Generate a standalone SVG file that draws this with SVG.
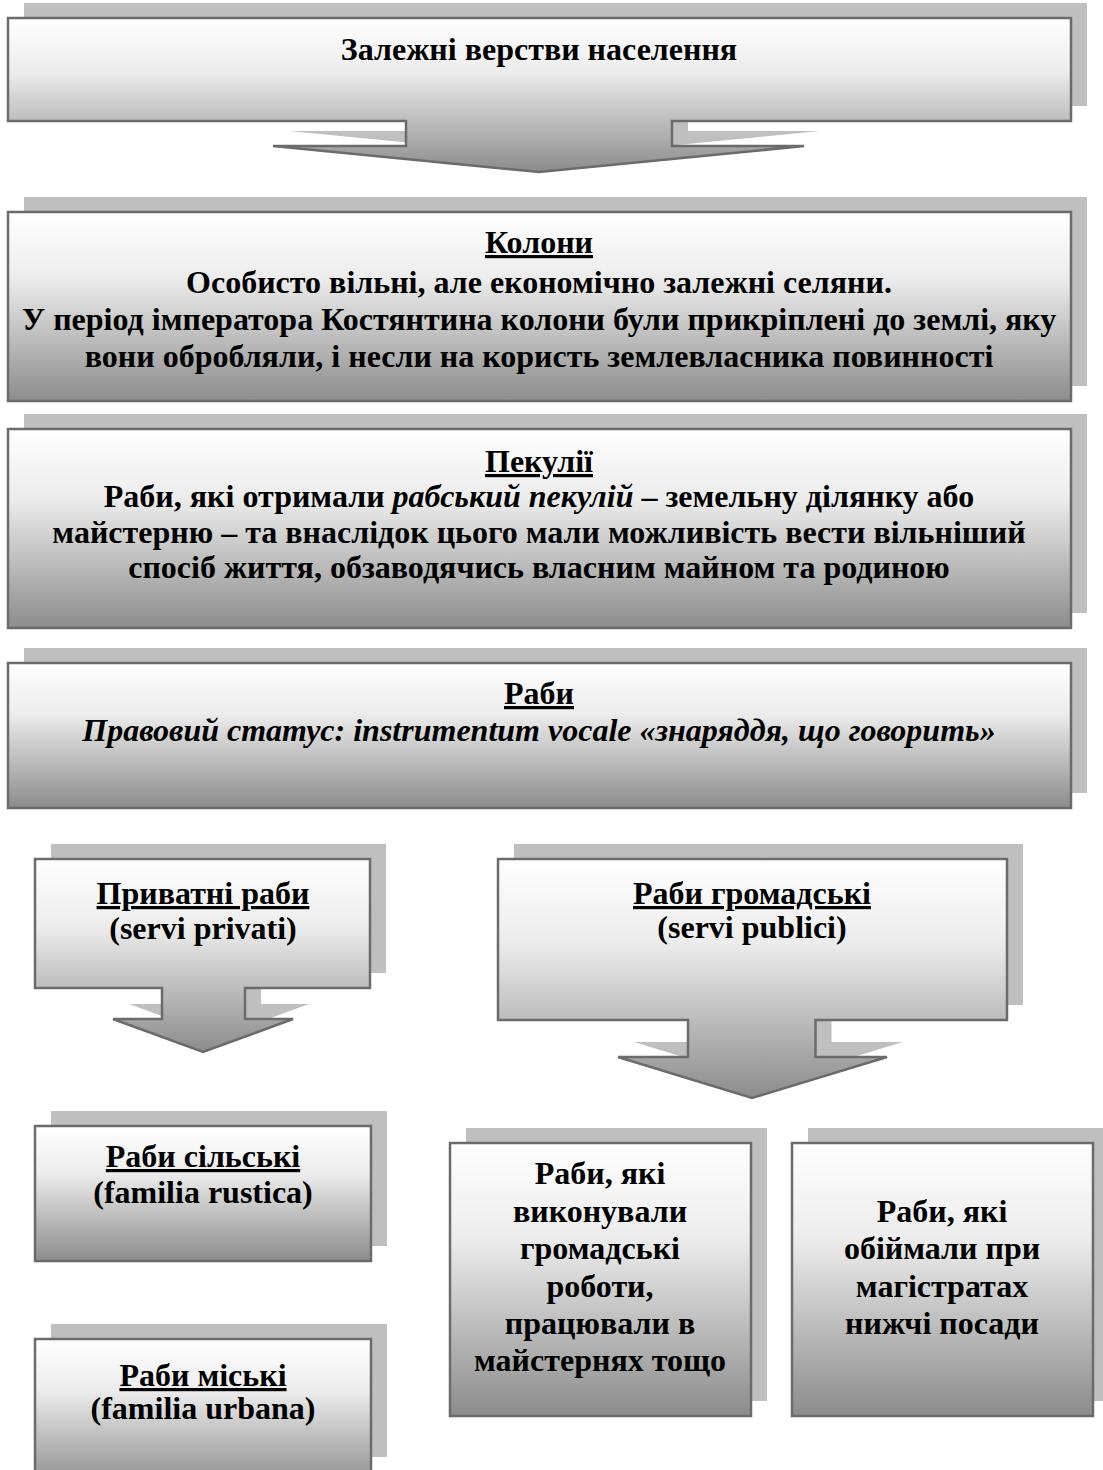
<svg xmlns="http://www.w3.org/2000/svg" width="1103" height="1470" viewBox="0 0 1103 1470">
  <defs>
    <linearGradient id="g" x1="0" y1="0" x2="0" y2="1">
      <stop offset="0" stop-color="#ffffff"/>
      <stop offset="0.35" stop-color="#ececec"/>
      <stop offset="1" stop-color="#8c8c8c"/>
    </linearGradient>
  </defs>
  <style>
    .sh { fill: #bfbfbf; stroke: none; }
    .bx { fill: url(#g); stroke: #6b6b6b; stroke-width: 2.5; }
    .t { font-family: "Liberation Serif", "Times New Roman", serif; font-weight: bold; font-size: 32px; fill: #000; text-anchor: middle; }
    .u { text-decoration: underline; }
    .i { font-style: italic; }
  </style>
  <rect width="1103" height="1470" fill="#ffffff"/>

  <g id="connectors"></g>

  <g id="node-zalezhni">
    <path class="sh" d="M24,3 H1087 V106 H688 V131 H820 L555,157 L289,131 H422 V106 H24 Z"/>
    <path class="bx" d="M8,18 H1071 V121 H672 V146 H804 L539,172 L273,146 H406 V121 H8 Z"/>
    <text class="t" x="539" y="60">Залежні верстви населення</text>
  </g>

  <g id="node-koloni">
    <rect class="sh" x="24" y="197" width="1063" height="189"/>
    <rect class="bx" x="8" y="212" width="1063" height="189"/>
    <text class="t u" x="539" y="253">Колони</text>
    <text class="t" x="539" y="293">Особисто вільні, але економічно залежні селяни.</text>
    <text class="t" x="539" y="330">У період імператора Костянтина колони були прикріплені до землі, яку</text>
    <text class="t" x="539" y="367">вони обробляли, і несли на користь землевласника повинності</text>
  </g>

  <g id="node-pekulii">
    <rect class="sh" x="24" y="414" width="1063" height="199"/>
    <rect class="bx" x="8" y="429" width="1063" height="199"/>
    <text class="t u" x="539" y="472">Пекулії</text>
    <text class="t" x="539" y="507">Раби, які отримали <tspan class="i">рабський пекулій</tspan> – земельну ділянку або</text>
    <text class="t" x="539" y="543">майстерню – та внаслідок цього мали можливість вести вільніший</text>
    <text class="t" x="539" y="578">спосіб життя, обзаводячись власним майном та родиною</text>
  </g>

  <g id="node-rabi">
    <rect class="sh" x="24" y="648" width="1063" height="145"/>
    <rect class="bx" x="8" y="663" width="1063" height="145"/>
    <text class="t u" x="539" y="704">Раби</text>
    <text class="t i" x="539" y="741">Правовий статус: instrumentum vocale «знаряддя, що говорить»</text>
  </g>

  <g id="node-pryvatni">
    <path class="sh" d="M51,844 H386 V973 H261 V1004 H309 L219,1037 L129,1004 H178 V973 H51 Z"/>
    <path class="bx" d="M35,859 H370 V988 H245 V1019 H293 L203,1052 L113,1019 H162 V988 H35 Z"/>
    <text class="t u" x="203" y="904">Приватні раби</text>
    <text class="t" x="203" y="939">(servi privati)</text>
  </g>

  <g id="node-hromadski">
    <path class="sh" d="M514,844 H1023 V1005 H831.5 V1042 H903 L768,1083 L634,1042 H704 V1005 H514 Z"/>
    <path class="bx" d="M498,859 H1007 V1020 H815.5 V1057 H887 L752,1098 L618,1057 H688 V1020 H498 Z"/>
    <text class="t u" x="752" y="904">Раби громадські</text>
    <text class="t" x="752" y="938">(servi publici)</text>
  </g>

  <g id="node-silski">
    <rect class="sh" x="51" y="1111" width="336" height="135"/>
    <rect class="bx" x="35" y="1126" width="336" height="135"/>
    <text class="t u" x="203" y="1167">Раби сільські</text>
    <text class="t" x="203" y="1203">(familia rustica)</text>
  </g>

  <g id="node-miski">
    <rect class="sh" x="51" y="1324" width="336" height="133"/>
    <rect class="bx" x="35" y="1339" width="336" height="148"/>
    <text class="t u" x="203" y="1386">Раби міські</text>
    <text class="t" x="203" y="1419">(familia urbana)</text>
  </g>

  <g id="node-vykonuvaly">
    <rect class="sh" x="466" y="1128" width="301" height="273"/>
    <rect class="bx" x="450" y="1143" width="301" height="273"/>
    <text class="t" x="600" y="1184">Раби, які</text>
    <text class="t" x="600" y="1222">виконували</text>
    <text class="t" x="600" y="1259">громадські</text>
    <text class="t" x="600" y="1297">роботи,</text>
    <text class="t" x="600" y="1334">працювали в</text>
    <text class="t" x="600" y="1371">майстернях тощо</text>
  </g>

  <g id="node-obiimaly">
    <rect class="sh" x="808" y="1128" width="301" height="273"/>
    <rect class="bx" x="792" y="1143" width="301" height="273"/>
    <text class="t" x="942" y="1222">Раби, які</text>
    <text class="t" x="942" y="1259">обіймали при</text>
    <text class="t" x="942" y="1297">магістратах</text>
    <text class="t" x="942" y="1334">нижчі посади</text>
  </g>
</svg>
